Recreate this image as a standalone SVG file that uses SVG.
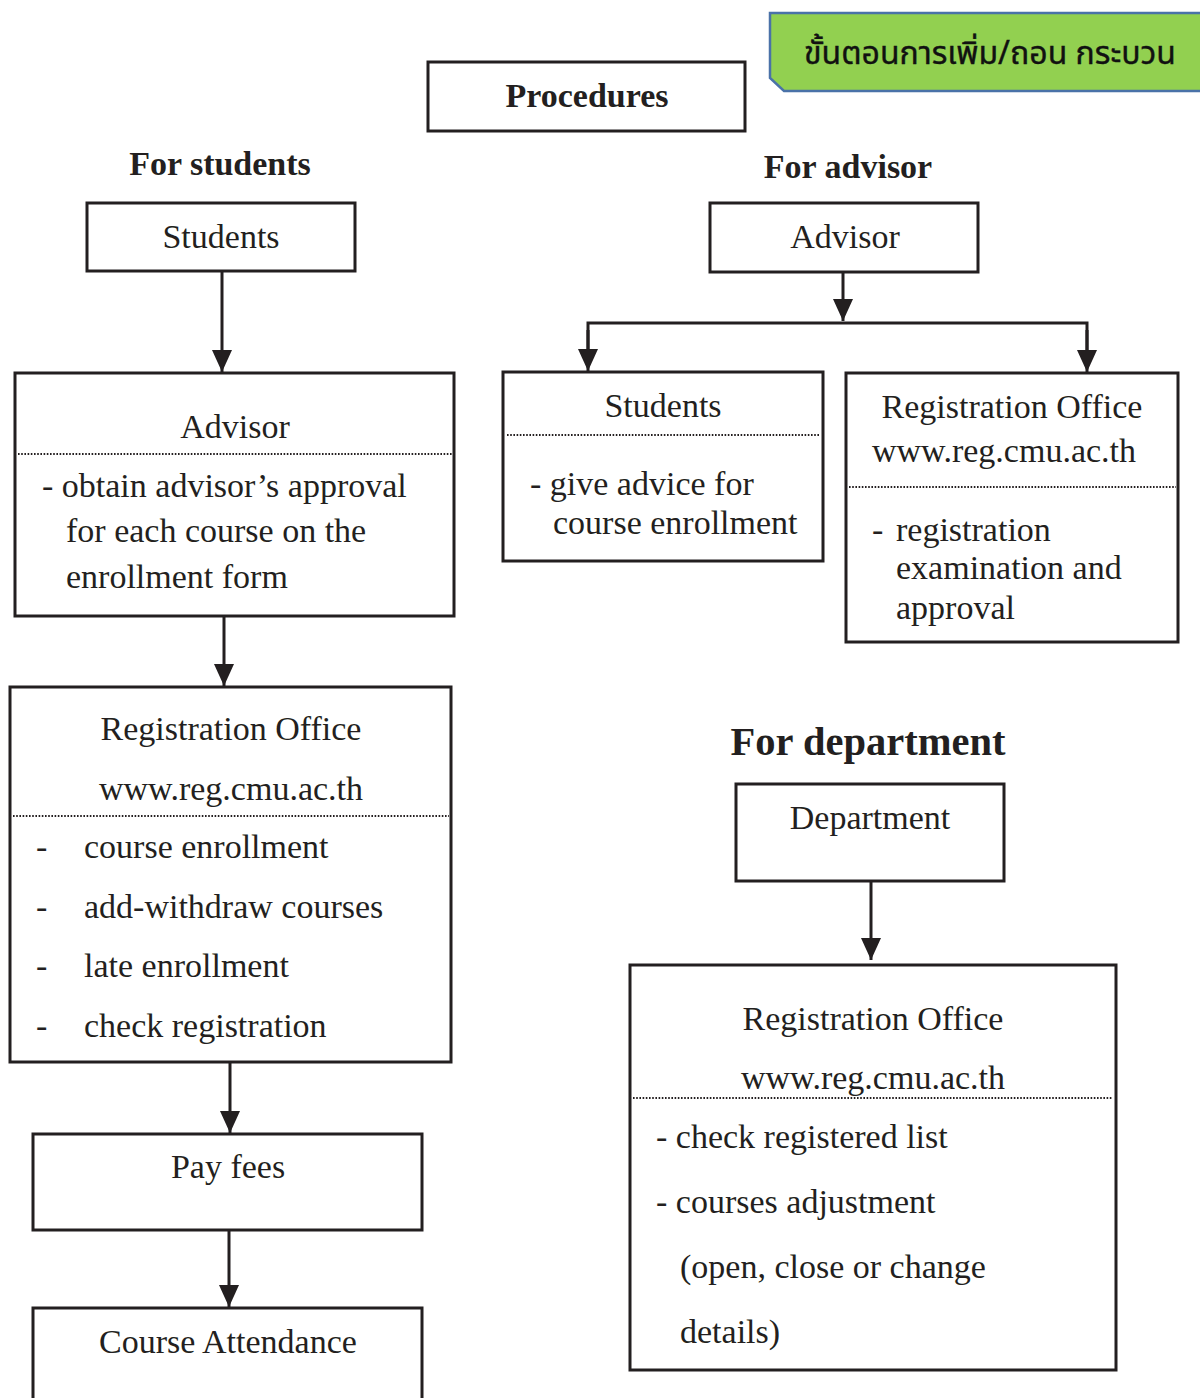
<svg xmlns="http://www.w3.org/2000/svg" width="1200" height="1398" viewBox="0 0 1200 1398">
<defs>
<marker id="ah" markerUnits="userSpaceOnUse" markerWidth="22" markerHeight="20" viewBox="0 0 22 20" refX="22" refY="10" orient="auto">
<path d="M0,0 L22,10 L0,20 Z" fill="#231f20"/>
</marker>
<style>
.box{fill:#fff;stroke:#231f20;stroke-width:3}
.dot{stroke:#231f20;stroke-width:2.2;stroke-dasharray:1.6 1.6;fill:none}
.t{font-family:"Liberation Serif","Times New Roman",serif;font-size:34px;fill:#231f20}
.c{text-anchor:middle}
.b{font-weight:bold}
.big{font-size:40.5px}
.conn{stroke:#231f20;stroke-width:3;fill:none}
</style>
</defs>
<rect width="1200" height="1398" fill="#fff"/>

<g id="thai-title">
<path d="M770,13 L1202,13 L1202,91 L784,91 L770,78 Z" fill="#92d050" stroke="#4a72a8" stroke-width="2.5"/>
<text x="990" y="64" text-anchor="middle" font-family="'Noto Sans Thai','Noto Sans','DejaVu Sans',sans-serif" font-size="32" stroke="#111" stroke-width="0.4" fill="#111">ขั้นตอนการเพิ่ม/ถอน กระบวน</text>
</g>

<g id="procedures">
<rect class="box" x="428" y="62" width="317" height="69"/>
<text class="t c b" x="587" y="107">Procedures</text>
</g>
<g id="hdr-students"><text class="t c b" x="220" y="175">For students</text></g>
<g id="hdr-advisor"><text class="t c b" x="848" y="178">For advisor</text></g>
<g id="hdr-department"><text class="t c b big" x="868" y="755">For department</text></g>

<g id="students-top">
<rect class="box" x="87" y="203" width="268" height="68"/>
<text class="t c" x="221" y="248">Students</text>
</g>

<g id="advisor-left">
<rect class="box" x="15" y="373" width="439" height="243"/>
<text class="t c" x="235" y="438">Advisor</text>
<line class="dot" x1="18" y1="454" x2="452" y2="454"/>
<text class="t" x="42" y="497">- obtain advisor’s approval</text>
<text class="t" x="66" y="542">for each course on the</text>
<text class="t" x="66" y="588">enrollment form</text>
</g>

<g id="regoffice-left">
<rect class="box" x="10" y="687" width="441" height="375"/>
<text class="t c" x="231" y="740">Registration Office</text>
<text class="t c" x="231" y="800">www.reg.cmu.ac.th</text>
<line class="dot" x1="13" y1="816" x2="449" y2="816"/>
<text class="t" x="36" y="858">-</text><text class="t" x="84" y="858">course enrollment</text>
<text class="t" x="36" y="918">-</text><text class="t" x="84" y="918">add-withdraw courses</text>
<text class="t" x="36" y="977">-</text><text class="t" x="84" y="977">late enrollment</text>
<text class="t" x="36" y="1037">-</text><text class="t" x="84" y="1037">check registration</text>
</g>

<g id="payfees">
<rect class="box" x="33" y="1134" width="389" height="96"/>
<text class="t c" x="228" y="1178">Pay fees</text>
</g>

<g id="attendance">
<rect class="box" x="33" y="1308" width="389" height="110"/>
<text class="t c" x="228" y="1353">Course Attendance</text>
</g>

<g id="advisor-top">
<rect class="box" x="710" y="203" width="268" height="69"/>
<text class="t c" x="845" y="248">Advisor</text>
</g>

<g id="students-right">
<rect class="box" x="503" y="372" width="320" height="189"/>
<text class="t c" x="663" y="417">Students</text>
<line class="dot" x1="507" y1="435" x2="820" y2="435"/>
<text class="t" x="530" y="495">- give advice for</text>
<text class="t" x="553" y="534">course enrollment</text>
</g>

<g id="regoffice-right">
<rect class="box" x="846" y="373" width="332" height="269"/>
<text class="t c" x="1012" y="418">Registration Office</text>
<text class="t c" x="1004" y="462">www.reg.cmu.ac.th</text>
<line class="dot" x1="849" y1="487" x2="1176" y2="487"/>
<text class="t" x="872" y="541">-</text>
<text class="t" x="896" y="541">registration</text>
<text class="t" x="896" y="579">examination and</text>
<text class="t" x="896" y="619">approval</text>
</g>

<g id="department">
<rect class="box" x="736" y="784" width="268" height="97"/>
<text class="t c" x="870" y="829">Department</text>
</g>

<g id="regoffice-dept">
<rect class="box" x="630" y="965" width="486" height="405"/>
<text class="t c" x="873" y="1030">Registration Office</text>
<text class="t c" x="873" y="1089">www.reg.cmu.ac.th</text>
<line class="dot" x1="633" y1="1098" x2="1113" y2="1098"/>
<text class="t" x="656" y="1148">- check registered list</text>
<text class="t" x="656" y="1213">- courses adjustment</text>
<text class="t" x="680" y="1278">(open, close or change</text>
<text class="t" x="680" y="1343">details)</text>
</g>

<g id="connectors">
<line class="conn" x1="222" y1="271" x2="222" y2="372" marker-end="url(#ah)"/>
<line class="conn" x1="224" y1="616" x2="224" y2="686" marker-end="url(#ah)"/>
<line class="conn" x1="230" y1="1062" x2="230" y2="1133" marker-end="url(#ah)"/>
<line class="conn" x1="229" y1="1230" x2="229" y2="1307" marker-end="url(#ah)"/>
<line class="conn" x1="843" y1="272" x2="843" y2="321" marker-end="url(#ah)"/>
<polyline class="conn" points="588,355 588,323 1087,323 1087,355"/>
<line class="conn" x1="588" y1="330" x2="588" y2="371" marker-end="url(#ah)"/>
<line class="conn" x1="1087" y1="330" x2="1087" y2="372" marker-end="url(#ah)"/>
<line class="conn" x1="871" y1="881" x2="871" y2="960" marker-end="url(#ah)"/>
</g>
</svg>
